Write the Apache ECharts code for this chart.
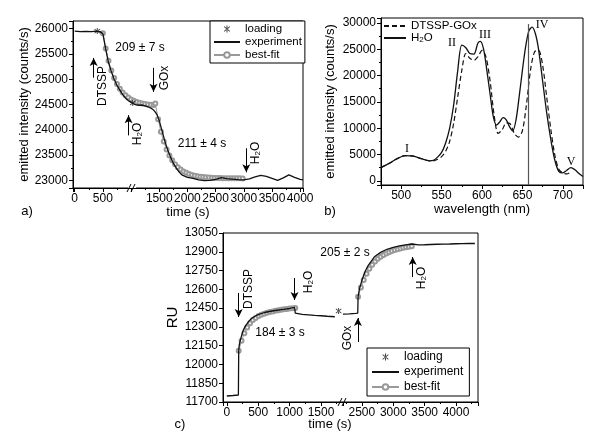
<!DOCTYPE html>
<html>
<head>
<meta charset="utf-8">
<script src="https://cdn.jsdelivr.net/npm/echarts@6/dist/echarts.min.js"></script>
<style>
html, body { margin: 0; padding: 0; background: #fff; }
#main { width: 600px; height: 439px; }
</style>
</head>
<body>
<div id="main"></div>
<script>
var FONT = 'Liberation Sans, Arial, sans-serif';
var SERIF = 'Liberation Serif, Times New Roman, serif';

// a) emitted intensity vs time
var aTime = [0,100,200,300,380,450,500,530,560,600,650,700,750,800,850,900,950,1000,1050,1100,1150,1200,1250,1300,1350,1400,1430,1460,1500,1550,1600,1650,1700,1750,1800,1850,1900,2000,2100,2200,2300,2400,2500,2600,2700,2800,2900,3000,3100,3200,3300,3400,3500,3600,3700,3800,3900,4000,4050];
var aIntensity = [25950,25940,25945,25940,25950,25940,25900,25720,25540,25330,25150,25000,24880,24790,24700,24630,24580,24540,24510,24490,24485,24490,24475,24455,24430,24390,24350,24300,24180,23980,23770,23600,23460,23340,23250,23170,23110,23060,23040,23010,22995,23000,23020,23055,23035,23025,23015,23010,23030,23070,23100,23080,23040,23000,23050,23110,23060,23020,23010];
var aFit1Time = [500,550,600,650,700,750,800,850,900,950,1000,1050,1100,1150,1200,1250,1300,1350,1400];
var aFit1 = [25910,25605,25363,25173,25023,24905,24813,24739,24682,24637,24601,24574,24551,24533,24520,24509,24502,24494,24489];
var aFit2Time = [1430,1480,1530,1580,1630,1680,1730,1780,1830,1880,1930,1980,2030,2080,2130,2180,2230,2280,2330,2380,2430,2480,2530,2580,2630,2680,2730,2780,2830,2880,2930,2980];
var aFit2 = [24520,24208,23961,23767,23613,23493,23397,23321,23262,23215,23178,23150,23126,23108,23093,23083,23074,23067,23061,23056,23053,23050,23047,23046,23045,23044,23043,23042,23042,23041,23041,23040];
var aLoadTime = [400, 1030];
var aLoad = [25950, 24530];
// arrows: [time, from, to]
var aArrows = [[336, 25030, 25420], [956, 23890, 24290], [1398, 25225, 24750], [3044, 23635, 23160]];

// b) emission spectra
var bWave = [475,485,495,505,515,525,535,540,545,550,555,560,565,570,575,580,585,590,595,598,602,606,610,614,618,622,626,630,634,638,642,646,650,654,658,662,666,670,675,680,685,690,695,700,705,710,715,720,725];
var bH2O = [2500,3300,4200,4800,4700,4200,3800,3900,4500,5400,7200,10000,14500,21000,25800,25300,24200,24100,26200,26500,25000,21000,16500,12200,10600,11200,12000,11600,10300,9500,11500,16000,21000,25500,28500,29200,28000,25000,19000,13000,8000,4000,1800,1500,2000,2500,2100,1400,800];
var bDashWave = [475,485,495,505,515,525,535,540,545,550,555,560,565,570,575,580,585,590,595,600,605,610,615,620,625,630,635,640,645,650,655,660,665,670,675,680,685,690,695,700,705,710];
var bDash = [2500,3300,4200,4800,4700,4200,3800,3800,4100,4600,5600,7500,11000,16000,21000,24200,23300,22900,23600,24800,23500,19000,12500,9000,9700,11000,10800,9000,8300,9500,14500,21000,24500,24800,22000,16000,10000,5000,2200,1500,1300,1700];
var bLine = 657;
var bPeaks = ['I', 'II', 'III', 'IV', 'V'];

// c) RU vs time, two pieces of a broken axis
var cLeftTime = [0,100,185,190,200,230,260,300,350,400,450,500,600,700,800,900,1000,1080,1090,1120,1200,1300,1400,1500,1600,1720];
var cLeft = [11748,11752,11756,12110,12160,12220,12270,12310,12345,12370,12385,12398,12415,12425,12433,12440,12447,12455,12410,12403,12400,12396,12392,12389,12385,12381];
var cFit1Time = [190,235,280,325,370,415,460,505,550,595,640,685,730,775,820,865,910,955,1000,1045,1090];
var cFit1 = [12110,12190,12250,12295,12330,12355,12372,12386,12397,12405,12412,12418,12423,12428,12432,12436,12440,12443,12446,12449,12451];
var cRightTime = [2200,2300,2400,2435,2440,2460,2500,2550,2600,2700,2800,2900,3000,3100,3200,3300,3320,3400,3500,3600,3700,3800,3900,4000,4100,4200,4300];
var cRight = [12402,12404,12408,12410,12540,12600,12670,12740,12790,12860,12895,12920,12935,12947,12955,12962,12958,12955,12956,12958,12960,12961,12962,12964,12965,12966,12966];
var cFit2Time = [2440,2485,2530,2575,2620,2665,2710,2755,2800,2845,2890,2935,2980,3025,3070,3115,3160,3205,3250,3295];
var cFit2 = [12540,12615,12675,12725,12765,12797,12823,12844,12861,12875,12887,12897,12906,12914,12921,12927,12932,12937,12941,12945];
var cLoadTime = [1780];
var cLoad = [12427];
var cLeftArrows = [[190, 12571, 12379], [1079, 12690, 12515]];
var cRightArrows = [[2437, 12179, 12371], [3310, 12698, 12858]];

var STAR = 'path://M4.3 0h1.4v10H4.3z M0.6 2.2l0.7-1.2 8.1 6.8-0.7 1.2z M9.4 2.2l-0.7-1.2-8.1 6.8 0.7 1.2z';

function zip(xs, ys) {
    return xs.map(function (x, i) { return [x, ys[i]]; });
}

function arrowLines(list) {
    return {
        silent: true,
        symbol: ['none', 'arrow'],
        symbolSize: [6, 8],
        label: { show: false },
        lineStyle: { color: '#000', width: 1, type: 'solid' },
        data: list.map(function (a) {
            return [{ coord: [a[0], a[1]] }, { coord: [a[0], a[2]] }];
        })
    };
}

function valAxis(gridIndex, min, max, step, extra) {
    var ax = {
        type: 'value',
        gridIndex: gridIndex,
        min: min,
        max: max,
        minInterval: step,
        maxInterval: step,
        axisLine: { show: true, onZero: false, lineStyle: { color: '#000', width: 1 } },
        axisTick: { show: true, length: 4, lineStyle: { color: '#000', width: 1 } },
        minorTick: { show: true, splitNumber: 2, length: 2, lineStyle: { color: '#000', width: 1 } },
        splitLine: { show: false },
        axisLabel: {
            color: '#000', fontSize: 12, fontFamily: FONT, margin: 5,
            formatter: function (v) { return Math.abs(v % step) < 1e-6 ? String(v) : ''; }
        },
        nameTextStyle: { color: '#000', fontSize: 13, fontFamily: FONT }
    };
    return Object.assign(ax, extra || {});
}

function txt(x, y, s, size, rot, font) {
    return {
        type: 'text', x: x, y: y, z: 100,
        rotation: rot ? Math.PI / 2 : 0,
        style: {
            text: s, fill: '#000', fontSize: size, fontFamily: font || FONT,
            align: 'center', verticalAlign: 'middle',
            rich: { s: { fontSize: 8, fontFamily: font || FONT, verticalAlign: 'bottom' } }
        }
    };
}

function breakMark(x, y) {
    return {
        type: 'group', x: x, y: y, z: 100,
        children: [
            { type: 'rect', shape: { x: -4, y: -3, width: 8, height: 6 }, style: { fill: '#fff' } },
            { type: 'line', shape: { x1: -5, y1: 4, x2: -1, y2: -4 }, style: { stroke: '#000', lineWidth: 1 } },
            { type: 'line', shape: { x1: -1, y1: 4, x2: 3, y2: -4 }, style: { stroke: '#000', lineWidth: 1 } }
        ]
    };
}

var FIT_GREY = '#999';
function fitSeries(x, y, xs, ys) {
    return {
        name: 'best-fit', type: 'line', xAxisIndex: x, yAxisIndex: y, data: zip(xs, ys), z: 2,
        symbol: 'emptyCircle', symbolSize: 4,
        lineStyle: { color: FIT_GREY, width: 1 },
        itemStyle: { color: FIT_GREY, borderColor: FIT_GREY, borderWidth: 0.8 }
    };
}
function expSeries(x, y, xs, ys, arrows) {
    return {
        name: 'experiment', type: 'line', xAxisIndex: x, yAxisIndex: y, data: zip(xs, ys),
        symbol: 'none', lineStyle: { color: '#111', width: 1.3 }, itemStyle: { color: '#111' },
        markLine: arrowLines(arrows), z: 3
    };
}
function loadSeries(x, y, xs, ys) {
    return {
        name: 'loading', type: 'scatter', xAxisIndex: x, yAxisIndex: y, data: zip(xs, ys),
        symbol: STAR, symbolSize: 6, itemStyle: { color: '#111' }, z: 4
    };
}

var legendText = { fontSize: 11.5, fontFamily: FONT, color: '#000' };
// line-only legend icons: hide the symbol drawn in the middle
var noMark = { opacity: 0 };
var fitLegend = [
    { name: 'loading', icon: STAR, itemStyle: { color: '#111' } },
    { name: 'experiment', itemStyle: noMark },
    { name: 'best-fit', itemStyle: { borderWidth: 0.8 } }
];

var option = {
    animation: false,
    backgroundColor: '#fff',
    textStyle: { fontFamily: FONT },
    grid: [
        { left: 73, top: 21, width: 230, height: 167, show: true, borderColor: '#000', borderWidth: 1 },
        { left: 381, top: 18, width: 202, height: 167, show: true, borderColor: '#000', borderWidth: 1 },
        { left: 223, top: 233, width: 120, height: 169 },
        { left: 343, top: 233, width: 135, height: 169 }
    ],
    xAxis: [
        valAxis(0, -30, 4050, 500, {
            name: 'time (s)', nameLocation: 'middle', nameGap: 16,
            axisLabel: {
                color: '#000', fontSize: 12, fontFamily: FONT, margin: 5,
                formatter: function (v) { return (v % 500 === 0 && v !== 1000) ? String(v) : ''; }
            }
        }),
        valAxis(1, 475, 725, 50, { name: 'wavelength (nm)', nameLocation: 'middle', nameGap: 16 }),
        valAxis(2, -60, 1850, 500),
        valAxis(3, 2200, 4350, 500)
    ],
    yAxis: [
        valAxis(0, 22850, 26150, 500, { name: 'emitted intensity (counts/s)', nameLocation: 'middle', nameGap: 41 }),
        valAxis(1, -800, 30950, 5000, { name: 'emitted intensity (counts/s)', nameLocation: 'middle', nameGap: 44 }),
        valAxis(2, 11700, 13050, 150, {
            name: 'RU', nameLocation: 'middle', nameGap: 36,
            minorTick: { show: false },
            nameTextStyle: { color: '#000', fontSize: 15, fontFamily: FONT }
        }),
        valAxis(3, 11700, 13050, 150, { show: false })
    ],
    legend: [
        {
            orient: 'vertical', left: 210, top: 21, selectedMode: false,
            data: fitLegend,
            backgroundColor: '#fff', borderColor: '#000', borderWidth: 1,
            padding: [2, 3], itemGap: 1, itemWidth: 26, itemHeight: 7,
            textStyle: legendText
        },
        {
            orient: 'vertical', left: 383, top: 20, selectedMode: false,
            data: [{ name: 'DTSSP-GOx', itemStyle: noMark }, { name: 'H2O', itemStyle: noMark }],
            padding: 0, itemGap: 0, itemWidth: 22, itemHeight: 8,
            textStyle: Object.assign({ rich: { s: { fontSize: 8, verticalAlign: 'bottom' } } }, legendText),
            formatter: function (n) { return n === 'H2O' ? 'H{s|2}O' : n; }
        },
        {
            orient: 'vertical', left: 367, top: 348, selectedMode: false,
            data: fitLegend,
            backgroundColor: '#fff', borderColor: '#000', borderWidth: 1,
            padding: [3, 6, 3, 4], itemGap: 3, itemWidth: 27, itemHeight: 7,
            textStyle: { fontSize: 12, fontFamily: FONT, color: '#000' }
        }
    ],
    series: [
        expSeries(0, 0, aTime, aIntensity, aArrows),
        fitSeries(0, 0, aFit1Time, aFit1),
        fitSeries(0, 0, aFit2Time, aFit2),
        loadSeries(0, 0, aLoadTime, aLoad),
        {
            name: 'DTSSP-GOx', type: 'line', xAxisIndex: 1, yAxisIndex: 1, data: zip(bDashWave, bDash),
            symbol: 'none', smooth: 0.3, lineStyle: { color: '#111', width: 1.2, type: [5, 3] }, itemStyle: { color: '#111' }
        },
        {
            name: 'H2O', type: 'line', xAxisIndex: 1, yAxisIndex: 1, data: zip(bWave, bH2O),
            symbol: 'none', smooth: 0.3, lineStyle: { color: '#111', width: 1.3 }, itemStyle: { color: '#111' },
            markLine: {
                silent: true, symbol: 'none', label: { show: false },
                lineStyle: { color: '#555', width: 1.2, type: 'solid' },
                data: [[{ coord: [bLine, -800] }, { coord: [bLine, 29800] }]]
            }
        },
        expSeries(2, 2, cLeftTime, cLeft, cLeftArrows),
        fitSeries(2, 2, cFit1Time, cFit1),
        loadSeries(2, 2, cLoadTime, cLoad),
        expSeries(3, 3, cRightTime, cRight, cRightArrows),
        fitSeries(3, 3, cFit2Time, cFit2)
    ],
    graphic: [
        // panel a
        txt(140, 48, '209 ± 7 s', 12),
        txt(103, 86, 'DTSSP', 12, true),
        txt(165, 78, 'GOx', 12, true),
        txt(138, 134, 'H{s|2}O', 12, true),
        txt(202, 144, '211 ± 4 s', 12),
        txt(256, 153, 'H{s|2}O', 12, true),
        txt(27, 211, 'a)', 13),
        breakMark(132, 188),
        // panel b
        txt(330, 211, 'b)', 13),
        txt(407, 149, bPeaks[0], 12, false, SERIF),
        txt(452, 43, bPeaks[1], 12, false, SERIF),
        txt(485, 35, bPeaks[2], 12, false, SERIF),
        txt(542, 25, bPeaks[3], 12, false, SERIF),
        txt(571, 162, bPeaks[4], 12, false, SERIF),
        // panel c
        {
            type: 'rect', z: 50, shape: { x: 223, y: 233, width: 255, height: 169 },
            style: { fill: 'none', stroke: '#000', lineWidth: 1 }
        },
        txt(249, 289, 'DTSSP', 12, true),
        txt(309, 282, 'H{s|2}O', 12, true),
        txt(280, 333, '184 ± 3 s', 12),
        txt(345, 253, '205 ± 2 s', 12),
        txt(348, 338, 'GOx', 12, true),
        txt(422, 278, 'H{s|2}O', 12, true),
        txt(180, 424, 'c)', 13),
        txt(330, 424, 'time (s)', 13),
        breakMark(343, 402)
    ]
};

var chart = echarts.init(document.getElementById('main'), null, { renderer: 'canvas' });
chart.setOption(option);
</script>
</body>
</html>
